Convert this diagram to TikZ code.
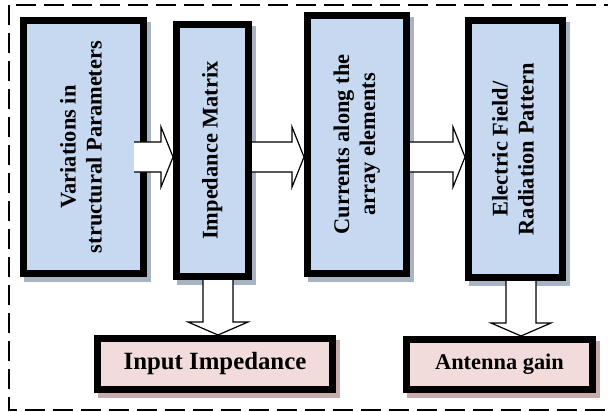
\documentclass[tikz,border=0pt]{standalone}
\usepackage{fontspec}
\setmainfont{Liberation Serif}
\usetikzlibrary{shadows}

\definecolor{stepblue}{HTML}{C6D9F1}
\definecolor{steppink}{HTML}{F2DCDB}
\definecolor{shadeblue}{HTML}{A8B3C3}
\definecolor{shadepink}{HTML}{C8ACAC}

\newcommand{\rightflow}[4]{%
  \coordinate (s) at (#1.east |- 0,#3);
  \coordinate (t) at (#2.west |- 0,#3);
  \draw[flow] ([xshift=-#4,yshift=7.5pt]s) -- ([xshift=-6pt,yshift=7.5pt]t)
    -- ([xshift=-6pt,yshift=15pt]t) -- (t) -- ([xshift=-6pt,yshift=-15pt]t)
    -- ([xshift=-6pt,yshift=-7.5pt]t) -- ([xshift=-#4,yshift=-7.5pt]s);}
\newcommand{\downflow}[3]{%
  \coordinate (s) at (#1.south -| #3,0);
  \coordinate (t) at (#2.north -| #3,0);
  \draw[flow] ([xshift=-7.5pt]s) -- ([xshift=-7.5pt,yshift=6.5pt]t)
    -- ([xshift=-15pt,yshift=6.5pt]t) -- (t) -- ([xshift=15pt,yshift=6.5pt]t)
    -- ([xshift=7.5pt,yshift=6.5pt]t) -- ([xshift=7.5pt]s);}
\newcommand{\vtext}[1]{\rotatebox{90}{\begin{tabular}{@{}c@{}}#1\end{tabular}}}

\begin{document}
\begin{tikzpicture}[x=0.5pt,y=-0.5pt,
    block/.style={draw=black,line width=3.5pt,inner sep=0pt,
      font=\fontsize{11.2}{13}\selectfont\bfseries},
    stage/.style={block,fill=stepblue,
      drop shadow={shadow xshift=1.8pt,shadow yshift=-2.3pt,opacity=1,
        fill=shadeblue,draw=shadeblue,line width=3.5pt}},
    result/.style={block,fill=steppink,
      drop shadow={shadow xshift=1.8pt,shadow yshift=-2.3pt,opacity=1,
        fill=shadepink,draw=shadepink,line width=3.5pt}},
    flow/.style={draw=black,fill=white,line width=0.6pt,line join=miter}]
  \useasboundingbox (0,0) rectangle (608,411);
  \draw[line width=1pt,dash pattern=on 10pt off 4pt] (9,5) rectangle (640,409.5);

  \node[stage,minimum width=60pt,minimum height=126.5pt] (vary) at (83.5,147)
    {\vtext{Variations in\\structural Parameters}\hspace{7pt}};
  \node[stage,minimum width=36pt,minimum height=126pt] (zmat) at (212.5,150.5)
    {\vtext{Impedance Matrix}};
  \node[stage,minimum width=49.5pt,minimum height=129pt] (curr) at (357,144.5)
    {\vtext{Currents along the\\array elements}};
  \node[stage,minimum width=47pt,minimum height=128.5pt] (field) at (515.5,149)
    {\vtext{Electric Field/\\Radiation Pattern}};
  \node[result,minimum width=117.5pt,minimum height=25.5pt,
    font=\fontsize{12.4}{14}\selectfont\bfseries] (zin) at (215,364) {Input Impedance};
  \node[result,minimum width=93pt,minimum height=25pt] (gain) at (499.5,364.5) {Antenna gain};

  \rightflow{vary}{zmat}{157}{6.5pt}
  \rightflow{zmat}{curr}{157}{0pt}
  \rightflow{curr}{field}{157}{0pt}
  \downflow{zmat}{zin}{218}
  \downflow{field}{gain}{521}
\end{tikzpicture}
\end{document}
